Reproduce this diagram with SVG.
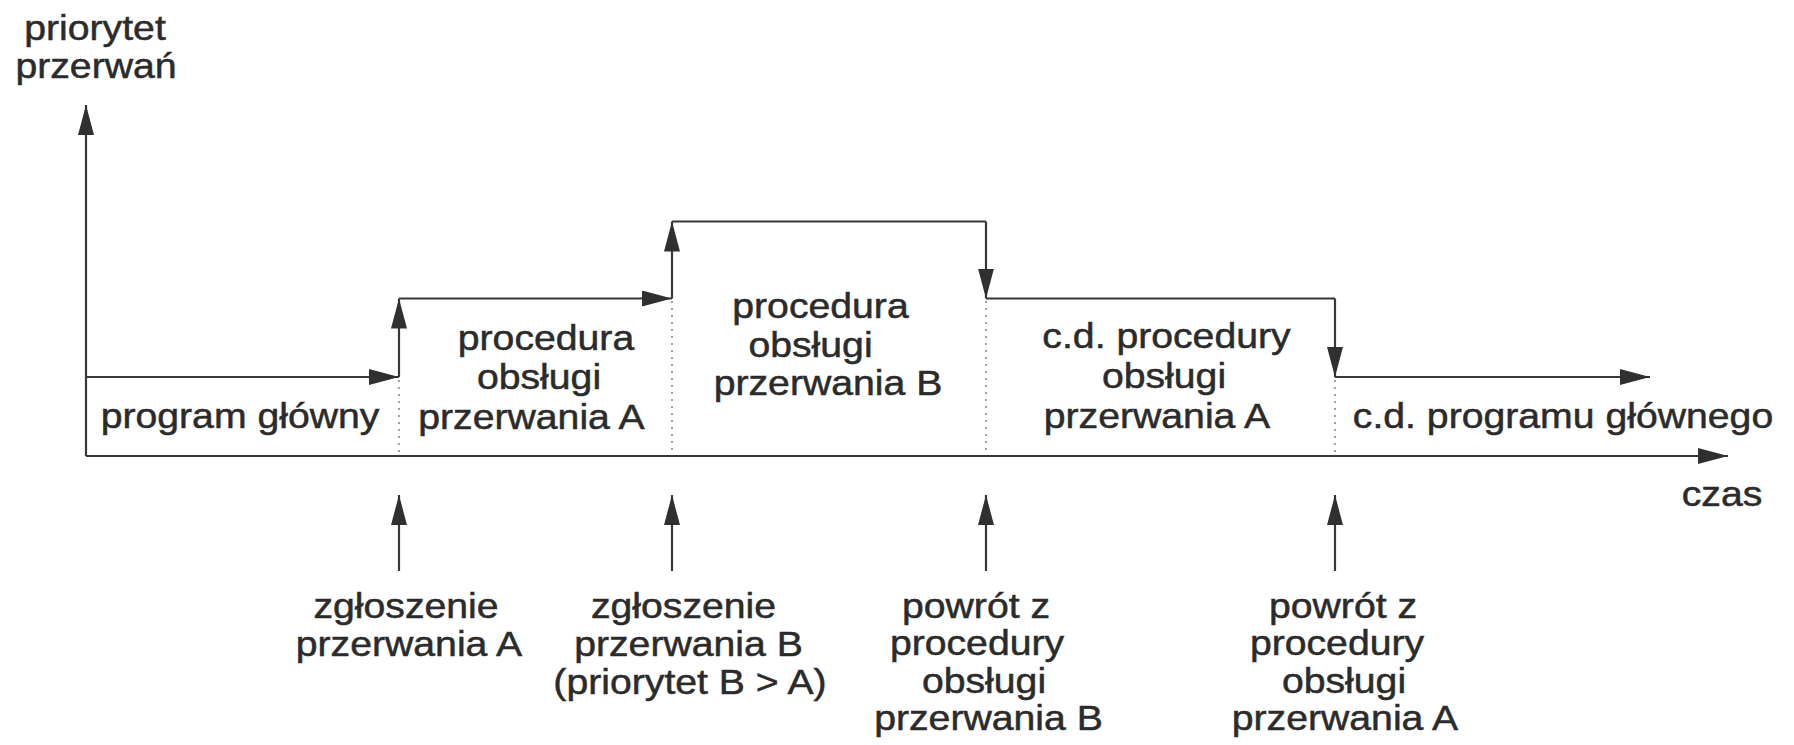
<svg xmlns="http://www.w3.org/2000/svg" width="1794" height="745" viewBox="0 0 1794 745">
  <style>
    .t { font-family: "Liberation Sans", Arial, sans-serif; font-size: 35px; fill: #2b2b2b; stroke: #2b2b2b; stroke-width: 0.5px; text-anchor: middle; }
    .ln { fill: none; stroke: #383838; stroke-width: 2.2; }
    .arr { fill: none; stroke: #383838; stroke-width: 2.2; marker-end: url(#head); }
    .dot { fill: none; stroke: #8a8a8a; stroke-width: 1.6; stroke-dasharray: 2 5; }
  </style>
  <defs>
    <marker id="head" viewBox="0 0 30 16" markerWidth="30" markerHeight="16" refX="30" refY="8" orient="auto" markerUnits="userSpaceOnUse">
      <path d="M0,0 L30,8 L0,16 Z" fill="#303030"/>
    </marker>
  </defs>
  <rect width="1794" height="745" fill="#ffffff"/>

  <!-- axes -->
  <g id="axes">
    <path class="arr" d="M86,456 L86,105"/>
    <path class="arr" d="M86,456 L1728,456"/>
    <text class="t" transform="matrix(1.12 0 0 1 95 40)">priorytet</text>
    <text class="t" transform="matrix(1.12 0 0 1 96 77.5)">przerwań</text>
    <text class="t" transform="matrix(1.12 0 0 1 1722 506)">czas</text>
  </g>

  <!-- priority levels over time -->
  <g id="connectors">
    <path class="arr" d="M86,377 L399,377"/>
    <path class="arr" d="M399,377 L399,298.5"/>
    <path class="arr" d="M399,298.5 L672,298.5"/>
    <path class="arr" d="M672,298.5 L672,221.5"/>
    <path class="ln" d="M672,221.5 L986,221.5"/>
    <path class="arr" d="M986,221.5 L986,298.5"/>
    <path class="ln" d="M986,298.5 L1335,298.5"/>
    <path class="arr" d="M1335,298.5 L1335,377"/>
    <path class="arr" d="M1335,377 L1650,377"/>
    <!-- event markers below the time axis -->
    <path class="arr" d="M399,571 L399,495"/>
    <path class="arr" d="M672,571 L672,495"/>
    <path class="arr" d="M986,571 L986,495"/>
    <path class="arr" d="M1335,571 L1335,495"/>
    <!-- dotted dividers -->
    <path class="dot" d="M399,380 L399,455"/>
    <path class="dot" d="M672,301 L672,455"/>
    <path class="dot" d="M986,301 L986,455"/>
    <path class="dot" d="M1335,380 L1335,455"/>
  </g>

  <g id="main-program">
    <text class="t" transform="matrix(1.12 0 0 1 240 428)">program główny</text>
  </g>

  <g id="isr-a">
    <text class="t" transform="matrix(1.12 0 0 1 546 350)">procedura</text>
    <text class="t" transform="matrix(1.12 0 0 1 539 389)">obsługi</text>
    <text class="t" transform="matrix(1.12 0 0 1 531.5 429)">przerwania A</text>
  </g>

  <g id="isr-b">
    <text class="t" transform="matrix(1.12 0 0 1 820.5 318)">procedura</text>
    <text class="t" transform="matrix(1.12 0 0 1 810.5 356.5)">obsługi</text>
    <text class="t" transform="matrix(1.12 0 0 1 828 395)">przerwania B</text>
  </g>

  <g id="isr-a-cont">
    <text class="t" transform="matrix(1.12 0 0 1 1166.5 348)">c.d. procedury</text>
    <text class="t" transform="matrix(1.12 0 0 1 1164 388)">obsługi</text>
    <text class="t" transform="matrix(1.12 0 0 1 1157 428)">przerwania A</text>
  </g>

  <g id="main-program-cont">
    <text class="t" transform="matrix(1.12 0 0 1 1563 428)">c.d. programu głównego</text>
  </g>

  <g id="event-req-a">
    <text class="t" transform="matrix(1.12 0 0 1 406 618)">zgłoszenie</text>
    <text class="t" transform="matrix(1.12 0 0 1 409 656)">przerwania A</text>
  </g>

  <g id="event-req-b">
    <text class="t" transform="matrix(1.12 0 0 1 683.5 618)">zgłoszenie</text>
    <text class="t" transform="matrix(1.12 0 0 1 688.5 656)">przerwania B</text>
    <text class="t" transform="matrix(1.12 0 0 1 690 694)">(priorytet B &gt; A)</text>
  </g>

  <g id="event-ret-b">
    <text class="t" transform="matrix(1.12 0 0 1 976 618)">powrót z</text>
    <text class="t" transform="matrix(1.12 0 0 1 977 655)">procedury</text>
    <text class="t" transform="matrix(1.12 0 0 1 984 693)">obsługi</text>
    <text class="t" transform="matrix(1.12 0 0 1 988.5 730)">przerwania B</text>
  </g>

  <g id="event-ret-a">
    <text class="t" transform="matrix(1.12 0 0 1 1343 618)">powrót z</text>
    <text class="t" transform="matrix(1.12 0 0 1 1337 655)">procedury</text>
    <text class="t" transform="matrix(1.12 0 0 1 1344 693)">obsługi</text>
    <text class="t" transform="matrix(1.12 0 0 1 1345 730)">przerwania A</text>
  </g>
</svg>
